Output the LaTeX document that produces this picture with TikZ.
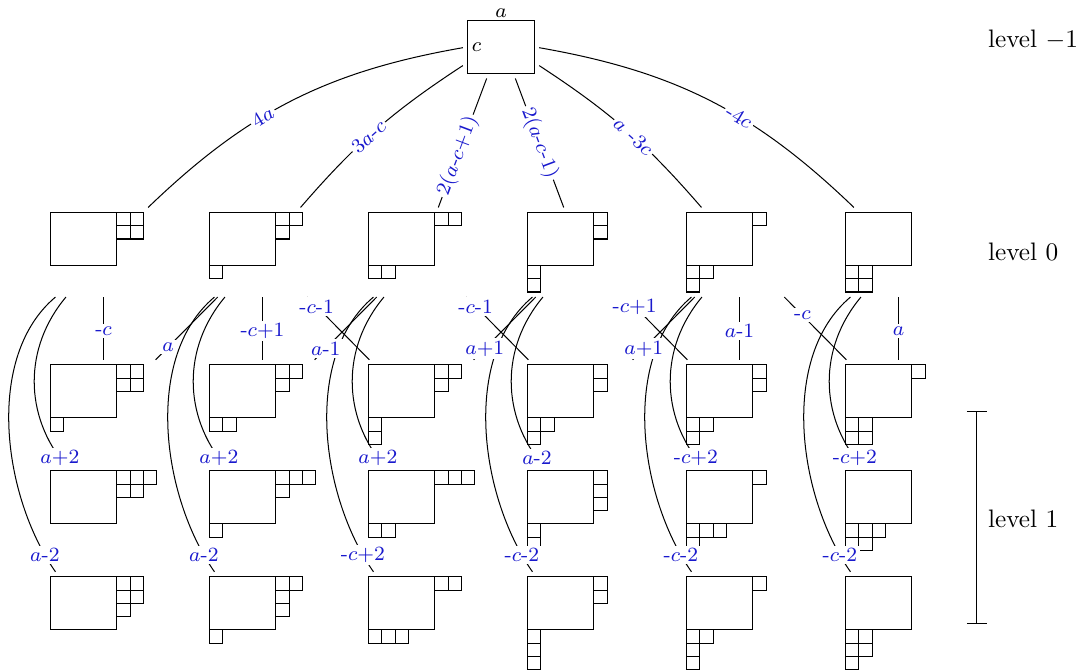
\documentclass[tikz,border=0pt]{standalone}
\usetikzlibrary{calc}
\definecolor{lblue}{RGB}{25,25,205}
\newcommand\ydg[3]{\draw (#2,#3) rectangle ++(5,-4); \node[hid] (#1) at (#2+4,#3-3) {};}
\newcommand\ytr[3]{\foreach \ci/\cj in {#3} {\draw (#1+5+\ci,#2-\cj) rectangle ++(1,-1);}}
\newcommand\ybl[3]{\foreach \ci/\cj in {#3} {\draw (#1+\ci,#2-4-\cj) rectangle ++(1,-1);}}
\begin{document}
\begin{tikzpicture}[x=5.238pt,y=5.238pt,
  hid/.style={draw=none,inner sep=0pt,outer sep=2pt,minimum width=41.904pt,minimum height=31.428pt},
  lbl/.style={font=\footnotesize,text=lblue,fill=white,inner sep=1pt},
  tl/.style={lbl,sloped},
  lvl/.style={anchor=west,inner sep=0pt}]
\useasboundingbox (-3.812,16.038) rectangle (78.075,-34.604);
% top
\draw (31.5,14.5) rectangle (36.5,10.5);
\node[draw=none,inner sep=0pt,outer sep=2pt,minimum width=26.19pt,minimum height=26.19pt] (top) at (34,13) {};
\node[font=\footnotesize,inner sep=0pt] (ta) at (34,15.04) {$a$};
\node[font=\footnotesize,inner sep=0pt] (tc) at (32.15,12.47) {$c$};
% level 0
\ydg{b1}{0}{0}\ytr{0}{0}{0/0,1/0,0/1,1/1}
\ydg{b2}{12}{0}\ytr{12}{0}{0/0,1/0,0/1}\ybl{12}{0}{0/0}
\ydg{b3}{24}{0}\ytr{24}{0}{0/0,1/0}\ybl{24}{0}{0/0,1/0}
\ydg{b4}{36}{0}\ytr{36}{0}{0/0,0/1}\ybl{36}{0}{0/0,0/1}
\ydg{b5}{48}{0}\ytr{48}{0}{0/0}\ybl{48}{0}{0/0,1/0,0/1}
\ydg{b6}{60}{0}\ybl{60}{0}{0/0,1/0,0/1,1/1}
% level 1 row 1
\ydg{r1c1}{0}{-11.5}\ytr{0}{-11.5}{0/0,1/0,0/1,1/1}\ybl{0}{-11.5}{0/0}
\ydg{r1c2}{12}{-11.5}\ytr{12}{-11.5}{0/0,1/0,0/1}\ybl{12}{-11.5}{0/0,1/0}
\ydg{r1c3}{24}{-11.5}\ytr{24}{-11.5}{0/0,1/0,0/1}\ybl{24}{-11.5}{0/0,0/1}
\ydg{r1c4}{36}{-11.5}\ytr{36}{-11.5}{0/0,0/1}\ybl{36}{-11.5}{0/0,1/0,0/1}
\ydg{r1c5}{48}{-11.5}\ytr{48}{-11.5}{0/0,0/1}\ybl{48}{-11.5}{0/0,1/0,0/1}
\ydg{r1c6}{60}{-11.5}\ytr{60}{-11.5}{0/0}\ybl{60}{-11.5}{0/0,1/0,0/1,1/1}
% row 2
\ydg{r2c1}{0}{-19.5}\ytr{0}{-19.5}{0/0,1/0,2/0,0/1,1/1}
\ydg{r2c2}{12}{-19.5}\ytr{12}{-19.5}{0/0,1/0,2/0,0/1}\ybl{12}{-19.5}{0/0}
\ydg{r2c3}{24}{-19.5}\ytr{24}{-19.5}{0/0,1/0,2/0}\ybl{24}{-19.5}{0/0,1/0}
\ydg{r2c4}{36}{-19.5}\ytr{36}{-19.5}{0/0,0/1,0/2}\ybl{36}{-19.5}{0/0,0/1}
\ydg{r2c5}{48}{-19.5}\ytr{48}{-19.5}{0/0}\ybl{48}{-19.5}{0/0,1/0,2/0,0/1}
\ydg{r2c6}{60}{-19.5}\ybl{60}{-19.5}{0/0,1/0,2/0,0/1,1/1}
% row 3
\ydg{r3c1}{0}{-27.5}\ytr{0}{-27.5}{0/0,1/0,0/1,1/1,0/2}
\ydg{r3c2}{12}{-27.5}\ytr{12}{-27.5}{0/0,1/0,0/1,0/2}\ybl{12}{-27.5}{0/0}
\ydg{r3c3}{24}{-27.5}\ytr{24}{-27.5}{0/0,1/0}\ybl{24}{-27.5}{0/0,1/0,2/0}
\ydg{r3c4}{36}{-27.5}\ytr{36}{-27.5}{0/0,0/1}\ybl{36}{-27.5}{0/0,0/1,0/2}
\ydg{r3c5}{48}{-27.5}\ytr{48}{-27.5}{0/0}\ybl{48}{-27.5}{0/0,1/0,0/1,0/2}
\ydg{r3c6}{60}{-27.5}\ybl{60}{-27.5}{0/0,1/0,0/1,1/1,0/2}
% edges level -1 to 0
\draw (top) to[bend right=17] node[tl,pos=.6]{4$a$} (b1);
\draw (top) to[bend right=8] node[tl,pos=.55]{3$a$-$c$} (b2);
\draw (top) -- node[tl,pos=.6]{2($a$-$c$+1)} (b3);
\draw (top) -- node[tl,pos=.5]{2($a$-$c$-1)} (b4);
\draw (top) to[bend left=8] node[tl,pos=.55]{$a$ -3$c$} (b5);
\draw (top) to[bend left=17] node[tl,pos=.6]{-4$c$} (b6);
% curves
\draw (b1) to[bend right=40] node[lbl,pos=.95]{$a$+2} (r2c1);
\draw (b1.-137) .. controls +(-5.36,-4.5) and +(-4.0,5.73) .. node[lbl,pos=.93]{$a$-2} (r3c1.137);
\draw (b2) to[bend right=40] node[lbl,pos=.95]{$a$+2} (r2c2);
\draw (b2.-137) .. controls +(-5.36,-4.5) and +(-4.0,5.73) .. node[lbl,pos=.93]{$a$-2} (r3c2.137);
\draw (b3) to[bend right=40] node[lbl,pos=.95]{$a$+2} (r2c3);
\draw (b3.-137) .. controls +(-5.36,-4.5) and +(-4.0,5.73) .. node[lbl,pos=.93]{-$c$+2} (r3c3.137);
\draw (b4) to[bend right=40] node[lbl,pos=.95]{$a$-2} (r2c4);
\draw (b4.-137) .. controls +(-5.36,-4.5) and +(-4.0,5.73) .. node[lbl,pos=.93]{-$c$-2} (r3c4.137);
\draw (b5) to[bend right=40] node[lbl,pos=.95]{-$c$+2} (r2c5);
\draw (b5.-137) .. controls +(-5.36,-4.5) and +(-4.0,5.73) .. node[lbl,pos=.93]{-$c$-2} (r3c5.137);
\draw (b6) to[bend right=40] node[lbl,pos=.95]{-$c$+2} (r2c6);
\draw (b6.-137) .. controls +(-5.36,-4.5) and +(-4.0,5.73) .. node[lbl,pos=.93]{-$c$-2} (r3c6.137);
% straight
\draw (b1) -- node[lbl,pos=.54]{-$c$} (r1c1);
\draw (b2) -- node[lbl,pos=.54]{-$c$+1} (r1c2);
\draw (b5) -- node[lbl,pos=.54]{$a$-1} (r1c5);
\draw (b6) -- node[lbl,pos=.54]{$a$} (r1c6);
% diagonals
\draw (b2.-135) -- node[lbl,pos=.8]{$a$} ($(r1c1.north east)+(-.45,0)$);
\draw (b3.-135) -- node[lbl,pos=.82]{$a$-1} ($(r1c2.north east)+(-.45,0)$);
\draw (b4.-135) -- node[lbl,pos=.82]{$a$+1} ($(r1c3.north east)+(-.45,0)$);
\draw (b5.-135) -- node[lbl,pos=.82]{$a$+1} ($(r1c4.north east)+(-.45,0)$);
\draw (b2.-45) -- node[lbl,pos=.15]{-$c$-1} ($(r1c3.north west)+(.45,0)$);
\draw (b3.-45) -- node[lbl,pos=.15]{-$c$-1} ($(r1c4.north west)+(.45,0)$);
\draw (b4.-45) -- node[lbl,pos=.15]{-$c$+1} ($(r1c5.north west)+(.45,0)$);
\draw (b5.-45) -- node[lbl,pos=.29]{-$c$} ($(r1c6.north west)+(.45,0)$);
% level labels
\node[lvl] (l1) at (70.72,13.0) {level $-1$};
\node[lvl] (l0) at (70.72,-3.0) {level 0};
\node[lvl] (l2) at (70.72,-23.1) {level 1};
\coordinate (bt) at (69.9,-15);
\coordinate (bb) at (69.9,-31);
\draw (bt) -- (bb);
\draw ($(bt)+(-.75,0)$) -- ($(bt)+(.75,0)$);
\draw ($(bb)+(-.75,0)$) -- ($(bb)+(.75,0)$);
\end{tikzpicture}
\end{document}
